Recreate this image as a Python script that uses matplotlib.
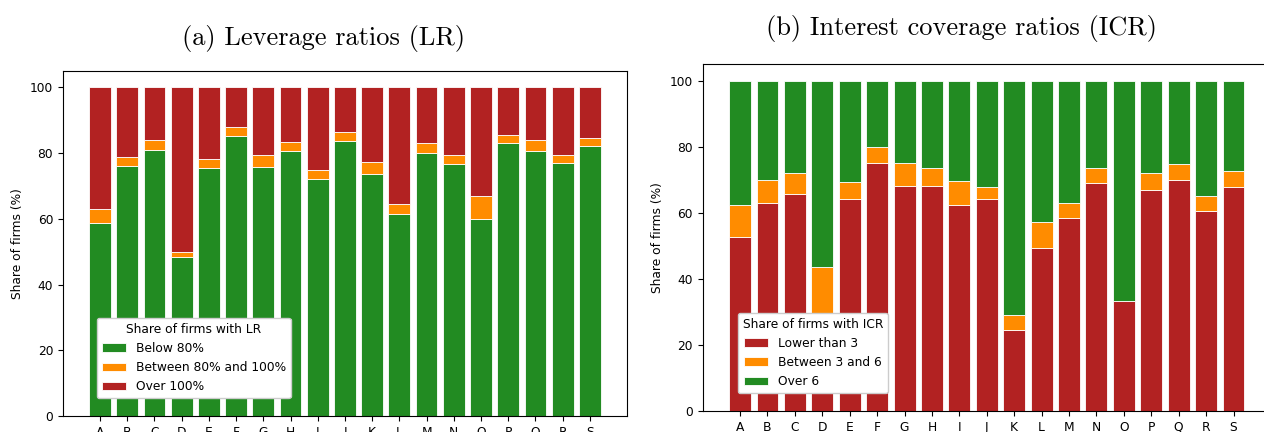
import numpy as np
import matplotlib
matplotlib.use("Agg")
import matplotlib.pyplot as plt

sectors = list("ABCDEFGHIJKLMNOPQRS")

# leverage ratios: shares per sector
lr_below80 = [58.8, 76.2, 80.9, 48.5, 75.4, 85.1, 75.8, 80.5, 72.0, 83.6,
              73.6, 61.6, 80.1, 76.6, 60.0, 83.2, 80.5, 77.0, 82.0]
lr_80to100 = [4.2, 2.7, 3.0, 1.4, 2.7, 2.7, 3.5, 3.0, 2.7, 2.7,
              3.7, 3.0, 3.0, 2.7, 7.0, 2.3, 3.4, 2.3, 2.7]
lr_over100 = [100 - a - b for a, b in zip(lr_below80, lr_80to100)]

# interest coverage ratios
icr_low3 = [52.6, 63.0, 65.8, 27.0, 64.2, 74.9, 68.1, 68.1, 62.3, 64.2,
            24.5, 49.2, 58.5, 68.9, 33.4, 67.0, 70.0, 60.4, 67.7]
icr_3to6 = [9.7, 7.0, 6.1, 16.7, 5.0, 5.1, 6.8, 5.3, 7.3, 3.5,
            4.7, 8.1, 4.5, 4.5, 0.0, 4.9, 4.6, 4.7, 5.0]
icr_over6 = [100 - a - b for a, b in zip(icr_low3, icr_3to6)]

GREEN = "forestgreen"
ORANGE = "darkorange"
RED = "firebrick"

plt.rcParams["font.size"] = 8.8

fig = plt.figure(figsize=(12.64, 4.32), dpi=100)
ax1 = fig.add_axes([0.0498, 0.037, 0.4462, 0.799])
# right panel runs past the figure edge, as in the cropped original
ax2 = fig.add_axes([0.556, 0.0486, 0.46, 0.8032])

x = np.arange(len(sectors))
kw = dict(width=0.8, edgecolor="white", linewidth=0.6)


def stack(ax, series, colors, labels, right):
    bottom = np.zeros(len(sectors))
    for vals, c, lab in zip(series, colors, labels):
        ax.bar(x, vals, bottom=bottom, color=c, label=lab, **kw)
        bottom += np.array(vals)
    ax.set_xticks(x)
    ax.set_xticklabels(sectors)
    ax.set_xlim(-1.36, right)
    ax.set_ylim(0, 105)
    ax.set_yticks([0, 20, 40, 60, 80, 100])
    ax.set_ylabel("Share of firms (%)")


stack(ax1, [lr_below80, lr_80to100, lr_over100], [GREEN, ORANGE, RED],
      ["Below 80%", "Between 80% and 100%", "Over 100%"], 19.36)
ax1.legend(title="Share of firms with LR", loc="lower left", framealpha=1,
           bbox_to_anchor=(0.06, 0.052), borderaxespad=0)

stack(ax2, [icr_low3, icr_3to6, icr_over6], [RED, ORANGE, GREEN],
      ["Lower than 3", "Between 3 and 6", "Over 6"], 19.85)
ax2.spines["right"].set_visible(False)
ax2.legend(title="Share of firms with ICR", loc="lower left", framealpha=1,
           bbox_to_anchor=(0.06, 0.052), borderaxespad=0)

fig.text(0.256, 0.91, "(a) Leverage ratios (LR)", fontfamily="cmr10",
         fontsize=19, ha="center", va="center")
fig.text(0.761, 0.935, "(b) Interest coverage ratios (ICR)", fontfamily="cmr10",
         fontsize=19, ha="center", va="center")

fig.savefig("out.png", dpi=100)
